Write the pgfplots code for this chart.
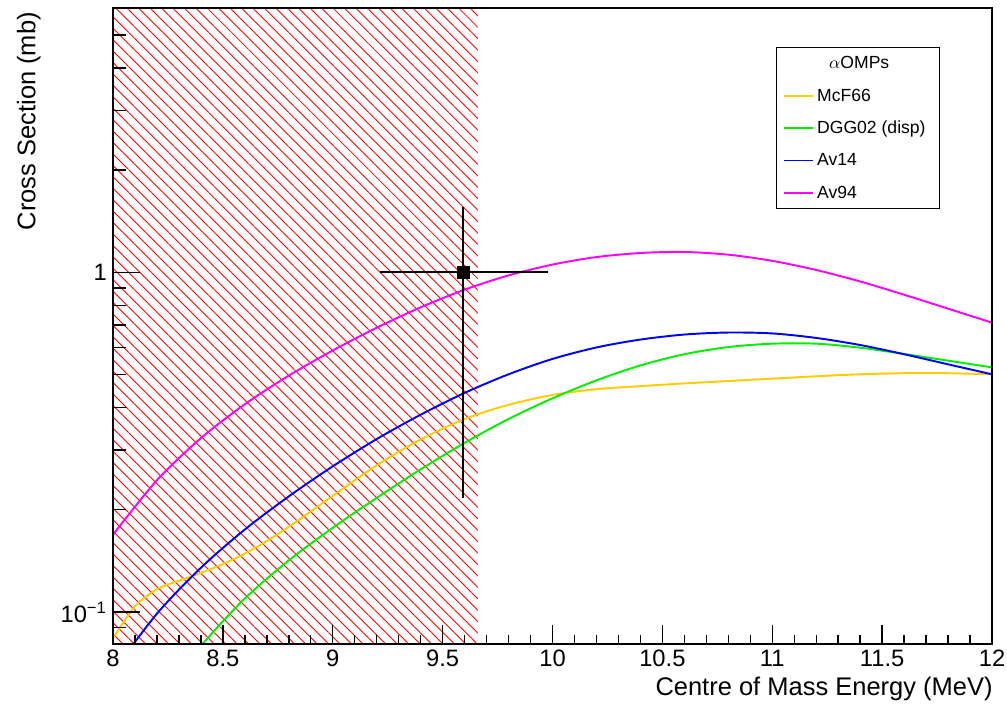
\documentclass[border=0pt]{standalone}
\usepackage{fontspec}
\setmainfont{Liberation Sans}
\usepackage{pgfplots}
\pgfplotsset{compat=1.18}
\usetikzlibrary{patterns.meta}
\definecolor{mcfyellow}{RGB}{255,204,0}
\definecolor{dggreen}{RGB}{0,240,0}
\definecolor{avblue}{RGB}{0,0,255}
\definecolor{avmagenta}{RGB}{255,0,255}
\pgfplotsset{
  rootframe/.style={
    width=17.58cm, height=12.72cm, scale only axis,
    xmin=8, xmax=12, ymin=0.0805, ymax=6,
    axis line style={line width=1.1pt},
    tick pos=left, tick align=inside,
    every tick/.style={black, line width=0.8pt},
    /pgf/number format/assume math mode=true,
    tick label style={font=\fontsize{13.5}{16}\selectfont},
  }
}
\newcommand{\lgs}{\rule[-2.5pt]{0pt}{10pt}}
\begin{document}
\begin{tikzpicture}
\begin{semilogyaxis}[rootframe, name=main, axis on top,
  xtick=\empty,
  ytick={0.1,1}, yticklabels={10\textsuperscript{−1},1},
  minor ytick={0.09,0.2,0.3,0.4,0.5,0.6,0.7,0.8,0.9,2,3,4,5},
  major tick length=0.54cm, minor tick length=0.26cm,
  xlabel={Centre of Mass Energy (MeV)},
  xlabel style={at={(rel axis cs:1.001,-0.052)}, anchor=north east, inner sep=0pt,
    font=\fontsize{14.5}{17}\selectfont},
  ylabel={Cross Section (mb)},
  ylabel style={at={(rel axis cs:-0.082,0.994)}, anchor=south east, inner sep=0pt,
    font=\fontsize{14.5}{17}\selectfont},
  legend style={at={(rel axis cs:0.7543,0.9387)}, anchor=north west, draw=black,
    line width=0.8pt, fill=white, font=\fontsize{10}{12}\selectfont,
    inner xsep=0.12cm, inner ysep=2.5pt, row sep=5.4pt, cells={anchor=west}},
  legend image code/.code={\draw[#1, line width=1.1pt] (0cm,0cm) -- (0.58cm,0cm);},
]
% excluded region (its legend row carries the legend title)
\addplot[draw=none, pattern={Lines[angle=-45,distance=4.6pt,line width=0.5pt]},
  pattern color=red, legend image code/.code={}]
  coordinates {(8,0.07) (9.66,0.07) (9.66,7) (8,7)} -- cycle;
\addlegendentry{\hspace*{-0.58cm}\makebox[2.84cm][c]{$\alpha$OMPs}\lgs}

\addplot[mcfyellow, line width=1.1pt, smooth] coordinates {
  (8.0,0.0836) (8.1,0.104) (8.2,0.1167) (8.3,0.1236) (8.4,0.1303) (8.5,0.1384)
  (8.6,0.1486) (8.7,0.1618) (8.8,0.1782) (8.9,0.1977) (9.0,0.2198) (9.2,0.2704)
  (9.4,0.3221) (9.6,0.370) (9.8,0.4074) (10.0,0.4355) (10.2,0.4529) (10.4,0.4624)
  (10.6,0.471) (10.8,0.4786) (11.0,0.4864) (11.2,0.4943) (11.4,0.501) (11.6,0.5047)
  (11.8,0.5047) (12.0,0.501)
};
\addlegendentry{McF66\lgs}

\addplot[dggreen, line width=1.1pt, smooth] coordinates {
  (8.2,0.0537) (8.4,0.0794) (8.6,0.1096) (8.8,0.1419) (9.0,0.177) (9.2,0.2168)
  (9.4,0.263) (9.6,0.3148) (9.8,0.370) (10.0,0.4256) (10.2,0.4808) (10.4,0.532)
  (10.6,0.574) (10.8,0.6026) (11.0,0.6166) (11.2,0.6166) (11.4,0.600) (11.6,0.575)
  (11.8,0.5495) (12.0,0.525)
};
\addlegendentry{DGG02 (disp)\lgs}

\addplot[avblue, line width=1.1pt, smooth] coordinates {
  (8.0,0.0668) (8.2,0.0989) (8.4,0.135) (8.6,0.175) (8.8,0.219) (9.0,0.2685)
  (9.2,0.323) (9.4,0.381) (9.6,0.4416) (9.8,0.501) (10.0,0.556) (10.2,0.601)
  (10.4,0.634) (10.6,0.656) (10.8,0.665) (11.0,0.661) (11.2,0.641) (11.4,0.611)
  (11.6,0.574) (11.8,0.536) (12.0,0.501)
};
\addlegendentry{Av14\lgs}

\addplot[avmagenta, line width=1.1pt, smooth] coordinates {
  (8.0,0.169) (8.2,0.2443) (8.4,0.325) (8.6,0.409) (8.8,0.4966) (9.0,0.5888)
  (9.2,0.687) (9.4,0.789) (9.6,0.889) (9.8,0.9795) (10.0,1.054) (10.2,1.109)
  (10.4,1.140) (10.6,1.148) (10.8,1.127) (11.0,1.081) (11.2,1.016) (11.4,0.940)
  (11.6,0.859) (11.8,0.782) (12.0,0.711)
};
\addlegendentry{Av94\lgs}

% measured point
\addplot[black, only marks, mark=square*, mark size=0.12cm, forget plot,
  error bars/.cd, x dir=both, x explicit, y dir=both, y explicit,
  error bar style={line width=1.1pt, black},
  error mark options={black, line width=1pt, mark size=1.5pt}]
  coordinates {(9.593,1.0) += (0.373,0.53) -= (0.364,0.78)};
\end{semilogyaxis}
\begin{semilogyaxis}[rootframe, at={(main.south west)}, anchor=south west,
  hide y axis,
  xtick={8,8.5,...,12}, minor x tick num=4,
  major tick length=0.38cm, minor tick length=0.18cm,
]
\end{semilogyaxis}
\pgfresetboundingbox
\useasboundingbox ([xshift=-2.26cm,yshift=-1.2cm]main.south west) rectangle ([xshift=0.3cm,yshift=0.16cm]main.north east);
\end{tikzpicture}
\end{document}
